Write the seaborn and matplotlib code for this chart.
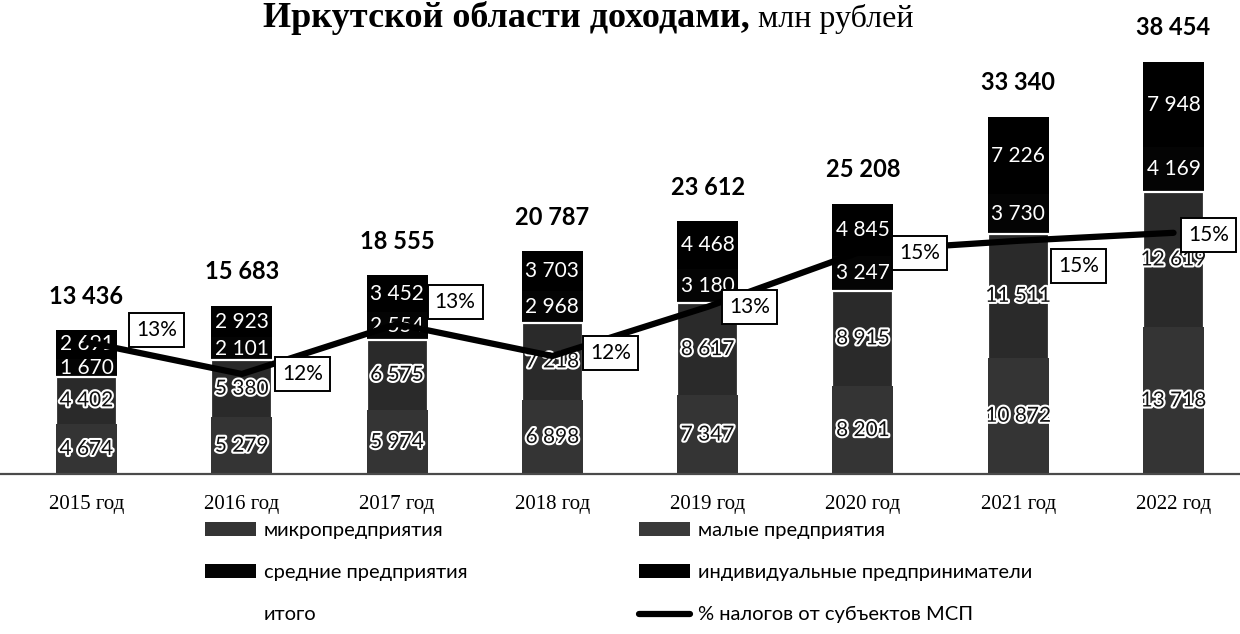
import numpy as np
import pandas as pd
import matplotlib
matplotlib.use("Agg")
import matplotlib.pyplot as plt
import matplotlib.patheffects as pe
from matplotlib.patches import Patch
from matplotlib.lines import Line2D
import seaborn as sns

# ---------------- data ----------------
years = ["2015 год", "2016 год", "2017 год", "2018 год",
         "2019 год", "2020 год", "2021 год", "2022 год"]
micro = [4674, 5279, 5974, 6898, 7347, 8201, 10872, 13718]
small = [4402, 5380, 6575, 7218, 8617, 8915, 11511, 12619]
medium = [1670, 2101, 2554, 2968, 3180, 3247, 3730, 4169]
ip = [2691, 2923, 3452, 3703, 4468, 4845, 7226, 7948]
totals = [13436, 15683, 18555, 20787, 23612, 25208, 33340, 38454]
tax_share = [12.55, 11.75, 13.0, 12.2, 13.43, 14.83, 15.08, 15.28]

series_names = ["микропредприятия", "малые предприятия",
                "средние предприятия", "индивидуальные предприниматели"]
total_name = "итого"
line_name = "% налогов от субъектов МСП"
title_bold = "Иркутской области доходами,"
title_rest = "млн рублей"

# ---------------- style ----------------
sns.set_theme(style="white")
plt.rcParams["font.family"] = ["Lato", "DejaVu Sans"]
plt.rcParams["text.color"] = "black"
plt.rcParams["legend.labelcolor"] = "black"

W, H = 1240, 634
fig = plt.figure(figsize=(W / 100, H / 100), dpi=100)
ax = fig.add_axes([0, 160 / H, 1, 474 / H])

col_micro = "#343434"
col_small = "#2a2a2a"
col_medium = "#040404"
col_ip = "#000000"

df = pd.DataFrame({"year": years, "micro": micro, "small": small,
                   "medium": medium, "ip": ip})
c1 = df["micro"].to_numpy()
c2 = c1 + df["small"].to_numpy()
c3 = c2 + df["medium"].to_numpy()
c4 = c3 + df["ip"].to_numpy()

bw = 0.393
# overplot cumulative bars from the top segment down
sns.barplot(x=df["year"], y=c4, color=col_ip, width=bw, saturation=1,
            linewidth=0, edgecolor="none", ax=ax, zorder=2)
sns.barplot(x=df["year"], y=c3, color=col_medium, width=bw, saturation=1,
            linewidth=0, edgecolor="none", ax=ax, zorder=2)
sns.barplot(x=df["year"], y=c2, color=col_small, width=bw, saturation=1,
            linewidth=1.6, edgecolor="white", ax=ax, zorder=2)
sns.barplot(x=df["year"], y=c1, color=col_micro, width=bw, saturation=1,
            linewidth=0, edgecolor="none", ax=ax, zorder=2)

ax.set_ylim(0, 44240)
ax.set_xlim(-0.557, 7.428)
ax.set_xlabel("")
ax.set_ylabel("")
ax.set_yticks([])
for s in ["top", "left", "right"]:
    ax.spines[s].set_visible(False)
ax.spines["bottom"].set_color("#4a4a4a")
ax.spines["bottom"].set_linewidth(1.6)
ax.tick_params(axis="x", length=0, pad=15)
for lab in ax.get_xticklabels():
    lab.set_fontfamily("Liberation Serif")
    lab.set_fontsize(15)
    lab.set_color("black")


def fmt(v):
    return f"{v:,}".replace(",", " ")


# segment labels
bottoms = [np.zeros(len(years)), c1, c2, c3]
vals = [c1, c2 - c1, c3 - c2, c4 - c3]
for k in range(4):
    for i in range(len(years)):
        yc = bottoms[k][i] + vals[k][i] / 2
        if k < 2:
            ax.text(i, yc, fmt(int(vals[k][i])), ha="center", va="center",
                    fontsize=15, color="#111111", zorder=5,
                    path_effects=[pe.withStroke(linewidth=3, foreground="white")])
        else:
            ax.text(i, yc, fmt(int(vals[k][i])), ha="center", va="center",
                    fontsize=15, color="white", zorder=5)

# totals
for i, t in enumerate(totals):
    ax.annotate(fmt(t), xy=(i, c4[i]), xytext=(0, 34), textcoords="offset pixels",
                ha="center", va="center", fontsize=17, fontweight="bold",
                color="black")

# percentage line
ax2 = ax.twinx()
sns.lineplot(x=np.arange(len(years)), y=tax_share, ax=ax2, color="black",
             linewidth=4.5, zorder=3)
ax2.set_ylim(9.25, 21.1)
ax2.set_xlim(-0.557, 7.428)
ax2.axis("off")

offs = [(70, -12), (61, 0), (58, -22), (58, -3), (42, 0), (57, 2), (60, 25), (35, 2)]
for i, p in enumerate(tax_share):
    dx, dy = offs[i]
    ax2.annotate(f"{round(p)}%", xy=(i, p), xytext=(dx, -dy),
                 textcoords="offset pixels", ha="center", va="center",
                 fontsize=15, color="black", zorder=6,
                 bbox=dict(boxstyle="square,pad=0.34", fc="white", ec="black", lw=1.4))

# title (kept fully visible near the top edge)
fig.text(750 / W, 1 - 27 / H, title_bold, ha="right", va="baseline",
         fontsize=26, fontweight="bold", family="Liberation Serif", color="black")
fig.text(758 / W, 1 - 27 / H, title_rest, ha="left", va="baseline",
         fontsize=23, family="Liberation Serif", color="black")

# legend: two columns
h_micro = Patch(facecolor=col_micro, edgecolor="none")
h_small = Patch(facecolor="#3a3a3a", edgecolor="none")
h_med = Patch(facecolor=col_medium, edgecolor="none")
h_ip = Patch(facecolor=col_ip, edgecolor="none")
h_tot = Patch(facecolor="none", edgecolor="none")
h_line = Line2D([], [], color="black", linewidth=4.5)

common = dict(frameon=False, borderpad=0, borderaxespad=0, handlelength=2.55,
              handleheight=0.65, handletextpad=0.38, labelspacing=1.25,
              fontsize=14.5, loc="upper left", labelcolor="black")
leg1 = fig.legend([h_micro, h_med, h_tot],
                  [series_names[0], series_names[2], total_name],
                  bbox_to_anchor=(205 / W, 1 - 522 / H), **common)
leg2 = fig.legend([h_small, h_ip, h_line],
                  [series_names[1], series_names[3], line_name],
                  bbox_to_anchor=(639 / W, 1 - 522 / H), **common)

fig.savefig("out.png", dpi=100, facecolor="white")
